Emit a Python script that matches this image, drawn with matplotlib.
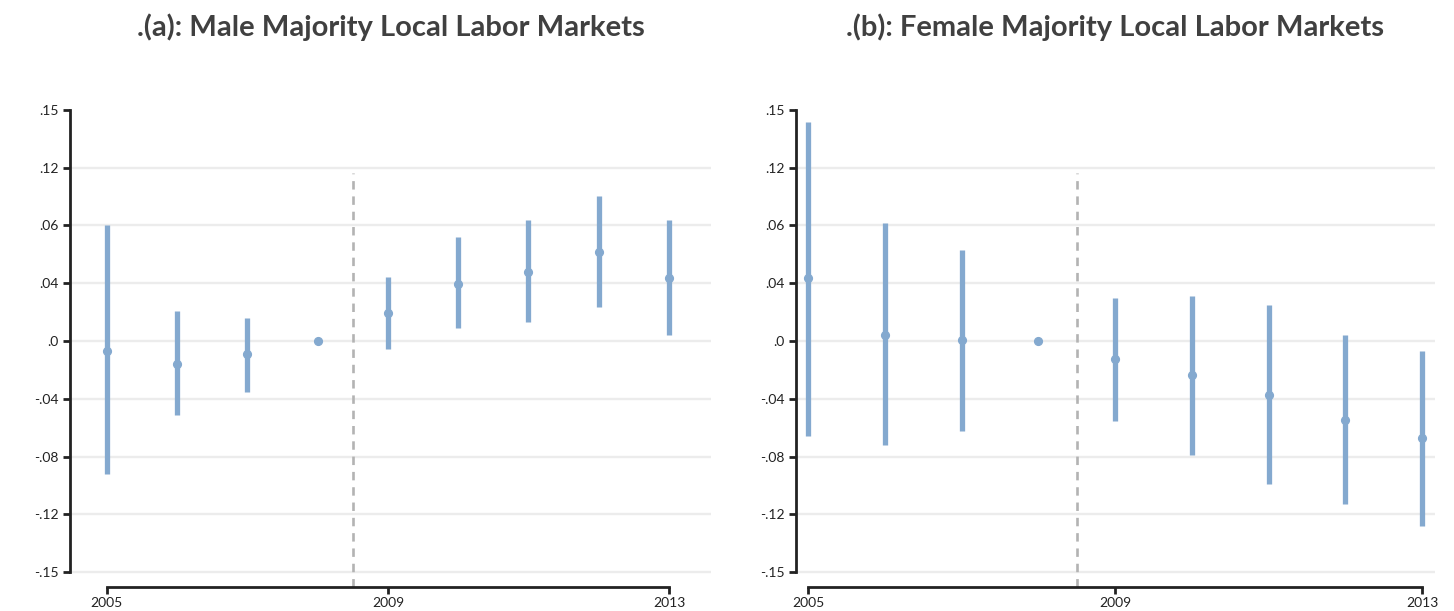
import matplotlib
matplotlib.use("Agg")
import matplotlib.pyplot as plt

years = [2005, 2006, 2007, 2008, 2009, 2010, 2011, 2012, 2013]

male_est = [-0.007, -0.016, -0.009, 0.0, 0.0195, 0.0395, 0.048, 0.0615, 0.0437]
male_lo = [-0.092, -0.051, -0.035, 0.0, -0.0054, 0.0093, 0.0128, 0.0232, 0.004]
male_hi = [0.080, 0.021, 0.016, 0.0, 0.0446, 0.072, 0.084, 0.100, 0.084]

female_est = [0.0437, 0.0042, 0.0007, 0.0, -0.0128, -0.0235, -0.0372, -0.0544, -0.0674]
female_lo = [-0.0655, -0.0722, -0.062, 0.0, -0.0553, -0.079, -0.0987, -0.1127, -0.128]
female_hi = [0.1514, 0.0813, 0.063, 0.0, 0.030, 0.0311, 0.0246, 0.0044, -0.007]

ytick_pos = [-0.16, -0.12, -0.08, -0.04, 0.0, 0.04, 0.08, 0.12, 0.16]
ytick_labels = ["-.15", "-.12", "-.08", "-.04", ".0", ".04", ".06", ".12", ".15"]
xtick_years = [2005, 2009, 2013]
xtick_labels = ["2005", "2009", "2013"]

titles = [".(a): Male Majority Local Labor Markets",
          ".(b): Female Majority Local Labor Markets"]

plt.rcParams['font.family'] = ['Lato', 'DejaVu Sans']

W, H = 1454, 611
fig = plt.figure(figsize=(W / 100, H / 100), dpi=100)

col = "#84a9cf"
ylim = (-0.1702, 0.166)
bottom_px = 587
top_px = 341 - 0.166 * 1445.6

panels = [
    dict(x0=70, x1=711, xlim=(2004.478, 2013.596), est=male_est, lo=male_lo, hi=male_hi),
    dict(x0=796, x1=1435, xlim=(2004.844, 2013.168), est=female_est, lo=female_lo, hi=female_hi),
]

for i, p in enumerate(panels):
    ax = fig.add_axes([p['x0'] / W, (H - bottom_px) / H,
                       (p['x1'] - p['x0']) / W, (bottom_px - top_px) / H])
    ax.set_xlim(*p['xlim'])
    ax.set_ylim(*ylim)
    for yv in ytick_pos[:-1]:
        ax.axhline(yv, color="#ececec", lw=1.7, zorder=0)
    ax.vlines(2008.5, ylim[0], 0.116, colors="#b3b3b3", lw=1.9,
              linestyles=(0, (3.2, 2.6)), zorder=1)
    ax.vlines(years, p['lo'], p['hi'], colors=col, lw=3.8, zorder=2)
    ax.plot(years, p['est'], 'o', color=col, ms=5.6, mec=col, zorder=3)

    for s in ['top', 'right']:
        ax.spines[s].set_visible(False)
    ax.spines['left'].set_bounds(-0.16, 0.16)
    ax.spines['bottom'].set_bounds(2005, 2013)
    for s in ['left', 'bottom']:
        ax.spines[s].set_linewidth(2)
        ax.spines[s].set_color("#222222")
    ax.set_yticks(ytick_pos)
    ax.set_yticklabels(ytick_labels)
    ax.set_xticks(xtick_years)
    ax.set_xticklabels(xtick_labels)
    ax.tick_params(axis='both', direction='out', length=5, width=2,
                   color="#222222", labelsize=10, labelcolor="#222222")
    ax.tick_params(axis='y', pad=3)
    ax.tick_params(axis='x', pad=2)
    ax.set_facecolor("white")

    cx = (p['x0'] + p['x1']) / 2 / W
    fig.text(cx, 1 - 27 / H, titles[i], ha='center', va='center',
             fontsize=21, fontweight='bold', color="#404040")

fig.savefig("out.png", dpi=100, facecolor="white")
